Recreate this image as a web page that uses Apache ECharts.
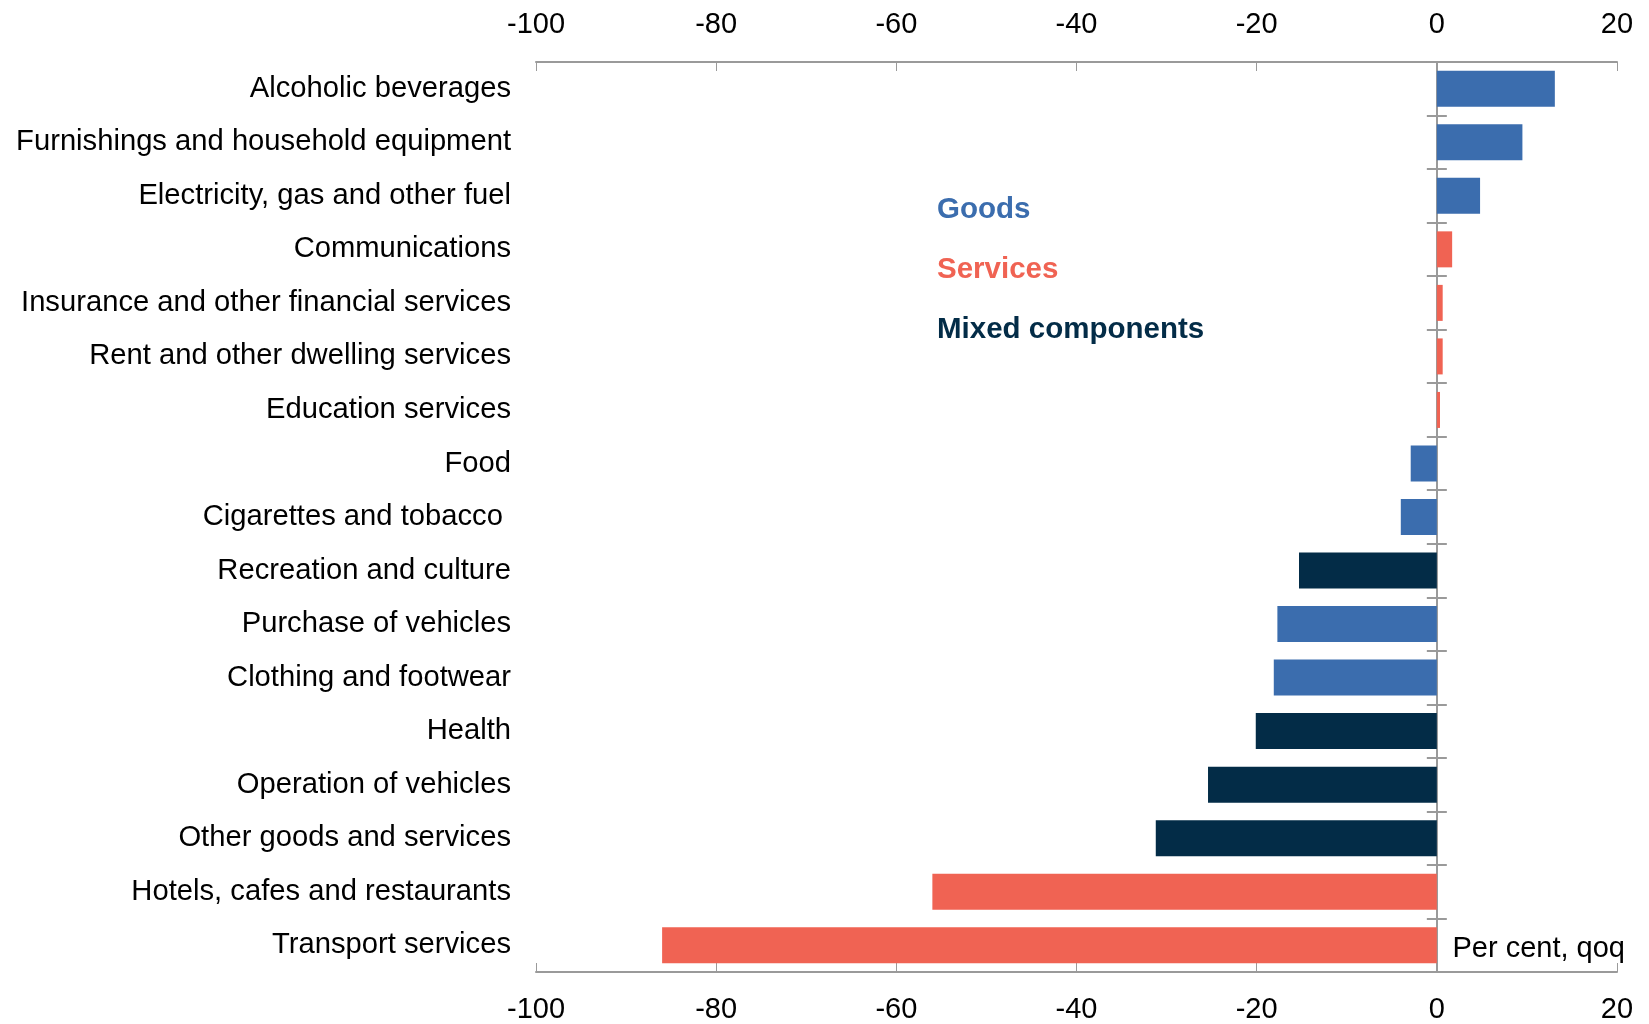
<!DOCTYPE html>
<html>
<head>
<meta charset="UTF-8">
<title>Consumption by component</title>
<script src="https://cdn.jsdelivr.net/npm/echarts@6/dist/echarts.min.js"></script>
<style>
	html, body { margin: 0; padding: 0; background: #fff; }
	#main-chart { width: 1649px; height: 1024px; }
</style>
</head>
<body>
<div id="main-chart"></div>
<script>
    // categories top to bottom
    var categories = ['Alcoholic beverages', 'Furnishings and household equipment', 'Electricity, gas and other fuel',
        'Communications', 'Insurance and other financial services', 'Rent and other dwelling services',
        'Education services', 'Food', 'Cigarettes and tobacco ', 'Recreation and culture', 'Purchase of vehicles',
        'Clothing and footwear', 'Health', 'Operation of vehicles', 'Other goods and services',
        'Hotels, cafes and restaurants', 'Transport services'];
    var values = [13.1, 9.5, 4.8, 1.7, 0.65, 0.65, 0.35, -2.9, -4.0, -15.3, -17.7, -18.1, -20.1, -25.4, -31.2, -56.0, -86.0];
    var groups = ['Goods', 'Goods', 'Goods', 'Services', 'Services', 'Services', 'Services', 'Goods', 'Goods',
        'Mixed components', 'Goods', 'Goods', 'Mixed components', 'Mixed components', 'Mixed components',
        'Services', 'Services'];
    var groupNames = ['Goods', 'Services', 'Mixed components'];
    var groupColors = ['#3B6DAE', '#F06353', '#032C47'];
    var xTicks = [-100, -80, -60, -40, -20, 0, 20];

    var font = 'Liberation Sans, Arial, sans-serif';
    var axisGrey = '#9a9a9a';

    var seriesList = [];
    for (var g = 0; g < groupNames.length; g++) {
        var d = [];
        for (var i = 0; i < values.length; i++) {
            d.push(groups[i] == groupNames[g] ? values[i] : '-');
        }
        seriesList.push({
            name: groupNames[g],
            type: 'bar',
            stack: 'all',
            xAxisIndex: 0,
            yAxisIndex: 0,
            barWidth: 36,
            itemStyle: { color: groupColors[g] },
            data: d
        });
    }

    var legendData = [];
    for (var k = 0; k < groupNames.length; k++) {
        legendData.push({ name: groupNames[k], textStyle: { color: groupColors[k] } });
    }

    function valueAxis(pos, margin) {
        return {
            type: 'value',
            position: pos,
            min: xTicks[0],
            max: xTicks[xTicks.length - 1],
            interval: 20,
            splitLine: { show: false },
            axisLine: { show: true, onZero: false, lineStyle: { color: axisGrey, width: 2 } },
            axisTick: { show: true, inside: true, length: 9, lineStyle: { color: axisGrey, width: 1 } },
            axisLabel: { fontFamily: font, fontSize: 29, color: '#000', margin: margin }
        };
    }

    function zeroAxis(inside, showLine) {
        return {
            type: 'category',
            inverse: true,
            data: categories,
            axisLine: { show: showLine, onZero: true, lineStyle: { color: axisGrey, width: 2 } },
            axisTick: { show: true, inside: inside, length: 10, lineStyle: { color: axisGrey, width: 2 } },
            axisLabel: { show: false }
        };
    }

    var myChart = echarts.init(document.getElementById('main-chart'));
    var option = {
        animation: false,
        grid: { left: 536, right: 32, top: 62, height: 912, containLabel: false },
        legend: {
            data: legendData,
            orient: 'vertical',
            left: 927,
            top: 190,
            icon: 'none',
            itemWidth: 0,
            itemGap: 30,
            selectedMode: false,
            textStyle: { fontFamily: font, fontSize: 29.5, fontWeight: 'bold' }
        },
        xAxis: [valueAxis('top', 23), valueAxis('bottom', 23)],
        yAxis: [
            {
                type: 'category',
                inverse: true,
                position: 'left',
                data: categories,
                axisLine: { show: false, onZero: false },
                axisTick: { show: false },
                axisLabel: { fontFamily: font, fontSize: 29.2, color: '#000', margin: 25 }
            },
            zeroAxis(true, true),
            zeroAxis(false, false)
        ],
        graphic: [{
            type: 'text',
            right: 24,
            top: 934,
            style: { text: 'Per cent, qoq', font: '29px ' + font, fill: '#000' }
        }],
        series: seriesList
    };
    myChart.setOption(option);
</script>
</body>
</html>
